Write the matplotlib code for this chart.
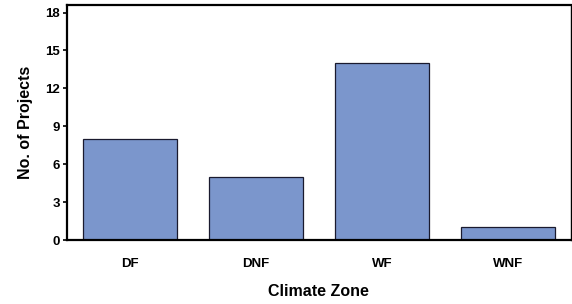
import matplotlib
matplotlib.use("Agg")
import matplotlib.pyplot as plt

zones = ["DF", "DNF", "WF", "WNF"]
projects = [8, 5, 14, 1]
yticks = [0, 3, 6, 9, 12, 15, 18]

plt.rcParams['font.family'] = ['Liberation Sans', 'DejaVu Sans']
plt.rcParams['font.weight'] = 'bold'

fig = plt.figure(figsize=(5.72, 3.04), dpi=100)
ax = fig.add_axes([0.117, 0.2105, 0.881, 0.773])

ax.bar(range(len(zones)), projects, width=0.75, color='#7B96CC',
       edgecolor='#1a1a2e', linewidth=0.9)

ax.set_xlim(-0.5, 3.5)
ax.set_ylim(0, 18.6)
ax.set_yticks(yticks)
ax.set_xticks(range(len(zones)))
ax.set_xticklabels(zones, fontsize=9.5, fontweight='bold')
ax.tick_params(axis='x', length=0, pad=13)
ax.tick_params(axis='y', length=3, width=1.2, labelsize=9.5, pad=2)
for t in ax.get_yticklabels():
    t.set_fontweight('bold')

for side in ['left', 'bottom', 'top']:
    ax.spines[side].set_linewidth(1.6)
ax.spines['right'].set_linewidth(1.0)

ax.set_xlabel("Climate Zone", fontsize=11.5, fontweight='bold', labelpad=10)
ax.set_ylabel("No. of Projects", fontsize=11.5, fontweight='bold', labelpad=9)

fig.savefig("out.png", dpi=100)
